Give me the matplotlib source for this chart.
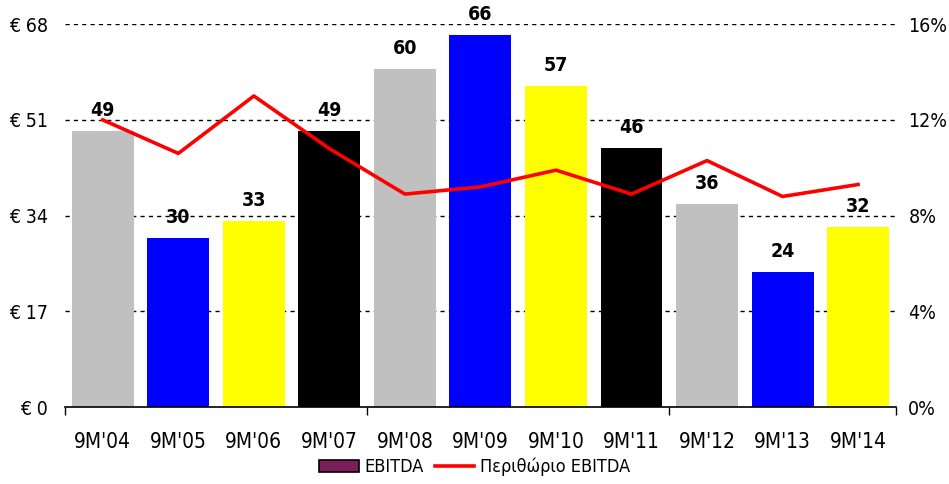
import matplotlib.pyplot as plt
from matplotlib.patches import Patch
from matplotlib.lines import Line2D
import numpy as np

plt.rcParams['font.family'] = ['DejaVu Sans']
plt.rcParams['font.stretch'] = 'condensed'

periodos = ["9M'04", "9M'05", "9M'06", "9M'07", "9M'08", "9M'09",
            "9M'10", "9M'11", "9M'12", "9M'13", "9M'14"]
ebitda = [49, 30, 33, 49, 60, 66, 57, 46, 36, 24, 32]
margen = [12.0, 10.6, 13.0, 10.8, 8.9, 9.2, 9.9, 8.9, 10.3, 8.8, 9.3]
colores = ['#C0C0C0', '#0000FF', '#FFFF00', '#000000'] * 3

x = np.arange(len(periodos))

fig = plt.figure(figsize=(9.49, 4.84), dpi=100)
ax = fig.add_axes([0.0685, 0.159, 0.8755, 0.791])
ax2 = ax.twinx()

ax.bar(x, ebitda, width=0.82, color=colores[:len(x)], zorder=2)
for xi, v in zip(x, ebitda):
    ax.text(xi, v + 2.0, str(v), ha='center', va='bottom', fontsize=14,
            fontweight='bold', zorder=3)

ax.set_xlim(-0.5, len(x) - 0.5)
ax.set_ylim(0, 68)
ax.set_yticks([0, 17, 34, 51, 68])
ax.set_yticklabels(['€ 0', '€ 17', '€ 34', '€ 51', '€ 68'])
for y in [17, 34, 51, 68]:
    ax.axhline(y, color='black', linestyle=(0, (3, 3)), linewidth=1, zorder=1)

ax.set_xticks([-0.5, 3.5, 7.5, 10.5])
ax.set_xticklabels([])
ax.set_xticks(x, minor=True)
ax.set_xticklabels(periodos, minor=True)
ax.tick_params(axis='x', which='major', length=6, direction='out', width=1)
ax.tick_params(axis='x', which='minor', length=0, pad=18, labelsize=15)
ax.tick_params(axis='y', length=0, pad=12, labelsize=14)

ax2.plot(x, margen, color='red', linewidth=2.6)
ax2.set_ylim(0, 16)
ax2.set_yticks([0, 4, 8, 12, 16])
ax2.set_yticklabels(['0%', '4%', '8%', '12%', '16%'])
ax2.tick_params(axis='y', length=0, pad=9, labelsize=14)

for a in (ax, ax2):
    for s in ['top', 'left', 'right']:
        a.spines[s].set_visible(False)
ax2.spines['bottom'].set_visible(False)
ax.spines['bottom'].set_linewidth(1.2)

handles = [Patch(facecolor='#7B1F5C', edgecolor='black', linewidth=1.2),
           Line2D([0], [0], color='red', linewidth=2.6)]
fig.legend(handles, ['EBITDA', 'Περιθώριο EBITDA'], loc='center',
           bbox_to_anchor=(0.5, 0.035), ncol=2, frameon=False, fontsize=13,
           handlelength=2.2, columnspacing=0.6, handletextpad=0.3)

fig.savefig('out.png', dpi=100)
